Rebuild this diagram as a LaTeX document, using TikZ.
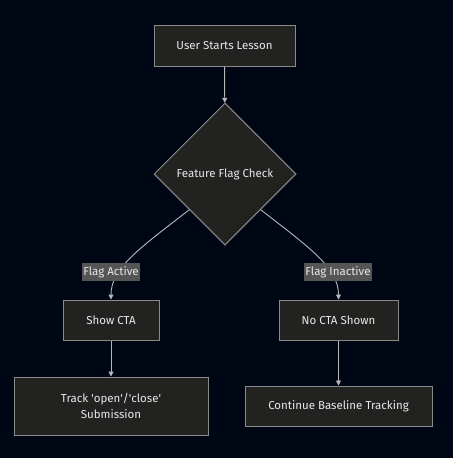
\documentclass[tikz,border=0pt]{standalone}
\usepackage{fontspec}
\setmainfont{Fira Sans}
\usetikzlibrary{shapes.geometric,arrows.meta}
\definecolor{bgc}{HTML}{000714}
\definecolor{boxc}{HTML}{222321}
\definecolor{bordc}{HTML}{8A8A8A}
\definecolor{edgec}{HTML}{B8B8B8}
\definecolor{labc}{HTML}{555555}
\definecolor{txtc}{HTML}{E8E8E8}
\newcommand{\sq}{\textquotesingle}
\tikzset{
  box/.style={draw=bordc, fill=boxc, line width=1pt, text=txtc, inner sep=0pt,
    align=center, font=\fontsize{11.5}{16}\selectfont},
  dia/.style={diamond, draw=bordc, fill=boxc, line width=1pt, text=txtc, inner sep=0pt,
    minimum width=142pt, minimum height=142pt, font=\fontsize{11.5}{16}\selectfont},
  lab/.style={fill=labc, text=txtc, inner sep=0pt, minimum height=18pt,
    font=\fontsize{11.5}{13}\selectfont},
  edge/.style={draw=edgec, line width=0.9pt, -{Triangle[width=5pt,length=5pt]}},
}
\begin{document}
\begin{tikzpicture}[x=1pt,y=-1pt]
\useasboundingbox (0,0) rectangle (453,458);
\fill[bgc] (0,0) rectangle (453,458);
\node[box, minimum width=141pt, minimum height=41pt] (start) at (224.5,45.5) {User Starts Lesson};
\node[dia] (check) at (225,174) {Feature Flag Check};
\node[box, minimum width=96pt, minimum height=40pt] (show) at (111,320) {Show CTA};
\node[box, minimum width=119pt, minimum height=40pt] (nocta) at (338.5,320) {No CTA Shown};
\node[box, minimum width=194pt, minimum height=58pt] (track) at (111,406) {Track \sq open\sq/\sq close\sq\\Submission};
\node[box, minimum width=187pt, minimum height=40pt] (cont) at (338.5,406) {Continue Baseline Tracking};
\draw[edge] (start) -- (check);
\draw[edge] (check.south west) .. controls (140,248) and (111,268) .. (show.north);
\draw[edge] (check.south east) .. controls (310,248) and (338.5,268) .. (nocta.north);
\draw[edge] (show) -- (track);
\draw[edge] (nocta) -- (cont);
\node[lab, minimum width=58pt] (la) at (111,272) {Flag Active};
\node[lab, minimum width=68pt] (li) at (338,272) {Flag Inactive};
\end{tikzpicture}
\end{document}
